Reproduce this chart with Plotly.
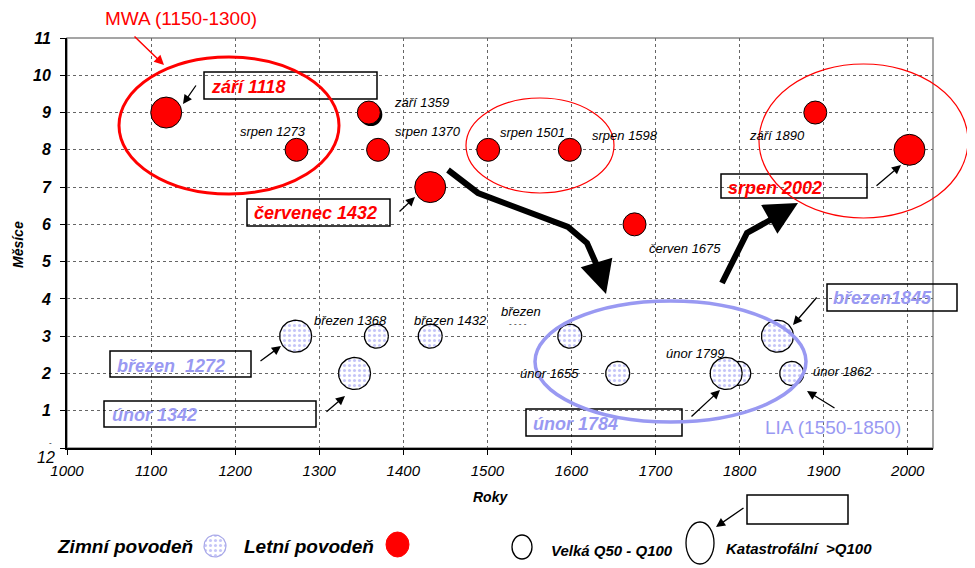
import numpy as np
import plotly.graph_objects as go

# ---------------- data ----------------
summer_years = [1118, 1273, 1359, 1370, 1432, 1501, 1598, 1675, 1890, 2002]
summer_months = [9, 8, 9, 8, 7, 8, 8, 6, 9, 8]
summer_class = ['K', 'V', 'V', 'V', 'K', 'V', 'V', 'V', 'V', 'K']
summer_labels = ['', 'srpen 1273', 'září 1359', 'srpen 1370', '', 'srpen 1501',
                 'srpen 1598', 'červen 1675', 'září 1890', '']

winter_years = [1272, 1342, 1368, 1432, 1598, 1655, 1799, 1784, 1845, 1862]
winter_months = [3, 2, 3, 3, 3, 2, 2, 2, 3, 2]
winter_class = ['K', 'K', 'V', 'V', 'V', 'V', 'V', 'K', 'K', 'V']
winter_labels = ['', '', 'březen 1368', 'březen 1432', 'březen', 'únor 1655',
                 'únor 1799', '', '', 'únor 1862']

x_ticks = [1000, 1100, 1200, 1300, 1400, 1500, 1600, 1700, 1800, 1900, 2000]
y_ticks = [0, 1, 2, 3, 4, 5, 6, 7, 8, 9, 10, 11]
y_ticktext = ['', '1', '2', '3', '4', '5', '6', '7', '8', '9', '10', '11']
y_bottom_label = '12'

# ---------------- geometry / style ----------------
OFF = 8                      # page body margin
W, H = 975 - OFF, 568 - OFF  # figure size
L, R, T, B = 67, 933, 38, 448  # plot area in page pixels
XMIN, XMAX = 1000, 2030
YMIN, YMAX = 0, 11
PPX = (R - L) / (XMAX - XMIN)
PPY = (B - T) / (YMAX - YMIN)
FONT = "Liberation Sans"
RED = "#ff0000"
LAV = "#9999f2"
DOTPAT = dict(shape='.', fgcolor='#8c8cf0', bgcolor='white', size=5, solidity=0.3)


def px(x):
    return (x - OFF) / W


def py(y):
    return 1 - (y - OFF) / H


def note(x, y, text, font, xanchor='center', yanchor='middle', **kw):
    d = dict(x=px(x), y=py(y), xref='paper', yref='paper', text=text, showarrow=False,
             xanchor=xanchor, yanchor=yanchor, font=font)
    d.update(kw)
    return d


def arrow(hx, hy, tx, ty, color='black', width=1.3, size=1.4):
    return dict(x=px(hx), y=py(hy), xref='paper', yref='paper', text='', showarrow=True,
                ax=tx - hx, ay=ty - hy, arrowhead=2, arrowsize=size, arrowwidth=width,
                arrowcolor=color)


size_px = {'K': 31, 'V': 23}

# label offsets (pixels) for point labels
summer_shift = {1: (-24, 18), 2: (53, 10), 3: (50, 18), 5: (44, 17), 6: (55, 14),
                7: (50, -24), 8: (-38, -23)}
winter_shift = {2: (-26, 16), 3: (20, 16), 4: (-49, 25), 5: (-68, 0), 6: (-43, 20),
                9: (51, 2)}

fig = go.Figure()

# winter floods: dotted circles drawn as pattern-filled polygons
theta = np.linspace(0, 2 * np.pi, 60)
order = sorted(range(len(winter_years)), key=lambda i: size_px[winter_class[i]])
for i in order:
    r = size_px[winter_class[i]] / 2 + 0.5
    xs = winter_years[i] + r / PPX * np.cos(theta)
    ys = winter_months[i] + r / PPY * np.sin(theta)
    fig.add_trace(go.Scatter(x=xs, y=ys, mode='lines', fill='toself',
                             fillcolor='white', fillpattern=DOTPAT,
                             line=dict(color='black', width=1.3),
                             hoverinfo='skip', showlegend=False))

# shadow under září 1359
shadow_idx = [i for i, l in enumerate(summer_labels) if l == 'září 1359']
fig.add_trace(go.Scatter(
    x=[summer_years[i] + 2 / PPX for i in shadow_idx],
    y=[summer_months[i] - 2 / PPY for i in shadow_idx],
    mode='markers', marker=dict(size=23, color='black', opacity=1),
    hoverinfo='skip', showlegend=False))

# summer floods: red circles
fig.add_trace(go.Scatter(
    x=summer_years, y=summer_months, mode='markers',
    marker=dict(size=[size_px[c] for c in summer_class], color=RED, opacity=1,
                line=dict(color='black', width=1)),
    showlegend=False))

# legend dotted circle (full-figure pixel space)
lg = np.linspace(0, 2 * np.pi, 50)
fig.add_trace(go.Scatter(x=215 + 11 * np.cos(lg), y=546 + 11 * np.sin(lg), mode='lines',
                         fill='toself', fillcolor='white', fillpattern=DOTPAT,
                         line=dict(color='#a8a8e8', width=1.2), xaxis='x2', yaxis='y2',
                         hoverinfo='skip', showlegend=False))

annotations = []
lab_font = dict(family=FONT, size=13, color='black', style='italic')
# point labels
for i, lab in enumerate(summer_labels):
    if lab:
        dx, dy = summer_shift[i]
        annotations.append(dict(x=summer_years[i], y=summer_months[i], text=lab, showarrow=False,
                                xshift=dx, yshift=dy, xanchor='center', yanchor='middle',
                                font=lab_font))
for i, lab in enumerate(winter_labels):
    if lab:
        dx, dy = winter_shift[i]
        annotations.append(dict(x=winter_years[i], y=winter_months[i], text=lab, showarrow=False,
                                xshift=dx, yshift=dy, xanchor='center', yanchor='middle',
                                font=lab_font))
annotations.append(note(518, 323, '- - - -', dict(family=FONT, size=8, color='black')))

# boxed labels: (text, colour, box x0, y0, x1, y1, text x, text y, head x, head y, tail x, tail y)
boxes = [
    ('září 1118', RED, 204, 72, 377, 99, 209, 87, 183, 104, 197, 84),
    ('červenec 1432', RED, 247, 199, 390, 226, 252, 213, 415, 197, 398, 213),
    ('srpen 2002', RED, 721, 174, 867, 198, 726, 188, 901, 165, 875, 187),
    ('březen  1272', LAV, 110, 351, 251, 377, 115, 366, 281, 346, 259, 362),
    ('únor 1342', LAV, 104, 401, 316, 427, 110, 415, 345, 396, 325, 413),
    ('únor 1784', LAV, 526, 409, 682, 436, 531, 424, 720, 390, 690, 418),
    ('březen1845', LAV, 827, 284, 957, 311, 831, 298, 793, 325, 818, 296),
]
shapes = []
for (txt, col, x0, y0, x1, y1, tx, ty, hx, hy, tlx, tly) in boxes:
    shapes.append(dict(type='rect', xref='paper', yref='paper', x0=px(x0), x1=px(x1),
                       y0=py(y0), y1=py(y1), line=dict(color='black', width=1.5), layer='above'))
    annotations.append(note(tx, ty, txt, dict(family=FONT, size=18, color=col, weight='bold',
                                               style='italic'), xanchor='left'))
    annotations.append(arrow(hx, hy, tlx, tly))

# MWA / LIA
annotations.append(note(181, 18, 'MWA (1150-1300)', dict(family=FONT, size=19, color=RED)))
annotations.append(arrow(164, 65, 133, 35, color=RED, width=1.5, size=1.3))
annotations.append(note(833, 427, 'LIA (1550-1850)', dict(family=FONT, size=19, color=LAV)))
annotations.append(arrow(807, 391, 836, 409))

# ellipses
for (x0, x1, y0, y1, col, w) in [(119, 339, 57, 194, RED, 3), (466, 614, 98, 193, RED, 1.2),
                                 (759, 968, 64, 218, RED, 1.2), (535, 806, 301, 422, LAV, 3.5)]:
    shapes.append(dict(type='circle', xref='paper', yref='paper', x0=px(x0), x1=px(x1),
                       y0=py(y0), y1=py(y1), line=dict(color=col, width=w), layer='above'))


# big trend arrows
def path(pts):
    return 'M ' + ' L '.join(f'{px(a):.5f},{py(b):.5f}' for a, b in pts)


shapes.append(dict(type='path', xref='paper', yref='paper',
                   path=path([(448, 170), (478, 193), (568, 227), (587, 243), (598, 268)]),
                   line=dict(color='black', width=6), layer='above'))
annotations.append(arrow(606, 294, 597, 264, width=6, size=1.1))
shapes.append(dict(type='path', xref='paper', yref='paper',
                   path=path([(722, 283), (747, 233), (772, 219)]),
                   line=dict(color='black', width=6), layer='above'))
annotations.append(arrow(798, 203, 768, 220, width=6, size=1.1))

# plot frame (top/right grey)
shapes.append(dict(type='rect', xref='paper', yref='paper', x0=px(L), x1=px(R), y0=py(B), y1=py(T),
                   line=dict(color='#888888', width=1.5), layer='below'))

# axis titles and odd bottom tick label
title_font = dict(family=FONT, size=14, color='black', weight='bold', style='italic')
annotations.append(note(490, 497, 'Roky', title_font))
annotations.append(note(18, 245, 'Měsíce', title_font, textangle=-90))
annotations.append(note(50, 442, '-', dict(family=FONT, size=8, color='black')))
annotations.append(note(46, 457, y_bottom_label,
                        dict(family=FONT, size=16, color='black', style='italic')))

# legend
leg_font = dict(family=FONT, size=19, color='black', weight='bold', style='italic')
leg_font_s = dict(family=FONT, size=15, color='black', weight='bold', style='italic')
annotations += [
    note(55, 546, 'Zimní povodeň', leg_font, xanchor='left'),
    note(242, 546, 'Letní povodeň', leg_font, xanchor='left'),
    note(549, 550, 'Velká Q50 - Q100', leg_font_s, xanchor='left'),
    note(724, 548, 'Katastrofální  >Q100', leg_font_s, xanchor='left'),
    arrow(716, 527, 745, 507),
]
shapes += [
    dict(type='circle', xref='paper', yref='paper', x0=px(386), x1=px(409), y0=py(532), y1=py(557),
         fillcolor=RED, line=dict(color=RED, width=1)),
    dict(type='circle', xref='paper', yref='paper', x0=px(512), x1=px(532), y0=py(535), y1=py(559),
         line=dict(color='black', width=1.3)),
    dict(type='circle', xref='paper', yref='paper', x0=px(686), x1=px(714), y0=py(522), y1=py(564),
         line=dict(color='black', width=1.3)),
    dict(type='rect', xref='paper', yref='paper', x0=px(747), x1=px(848), y0=py(495), y1=py(524),
         line=dict(color='black', width=1.5)),
]

fig.update_layout(
    width=W, height=H, margin=dict(l=0, r=0, t=0, b=0),
    paper_bgcolor='white', plot_bgcolor='rgba(0,0,0,0)',
    showlegend=False,
    xaxis=dict(domain=[px(L), px(R)], range=[XMIN, XMAX], tickvals=x_ticks,
               showgrid=True, gridcolor='#666666', griddash='dot', gridwidth=1,
               showline=True, linecolor='black', linewidth=2, ticks='outside', ticklen=5,
               tickcolor='black', ticklabelstandoff=3,
               tickfont=dict(family=FONT, size=15, color='black', style='italic'),
               zeroline=False, anchor='y', fixedrange=True, automargin=False),
    yaxis=dict(domain=[py(B), py(T)], range=[YMIN, YMAX], tickvals=y_ticks, ticktext=y_ticktext,
               showgrid=True, gridcolor='#666666', griddash='dot', gridwidth=1,
               showline=True, linecolor='black', linewidth=2, ticks='outside', ticklen=5,
               tickcolor='black', ticklabelstandoff=6,
               tickfont=dict(family=FONT, size=16, color='black', style='italic', weight='bold'),
               zeroline=False, anchor='x', fixedrange=True, automargin=False),
    xaxis2=dict(domain=[0, 1], range=[OFF, OFF + W], visible=False, anchor='y2', fixedrange=True),
    yaxis2=dict(domain=[0, 1], range=[OFF + H, OFF], visible=False, anchor='x2', fixedrange=True),
    shapes=shapes, annotations=annotations,
)

fig.write_html("out.html")
